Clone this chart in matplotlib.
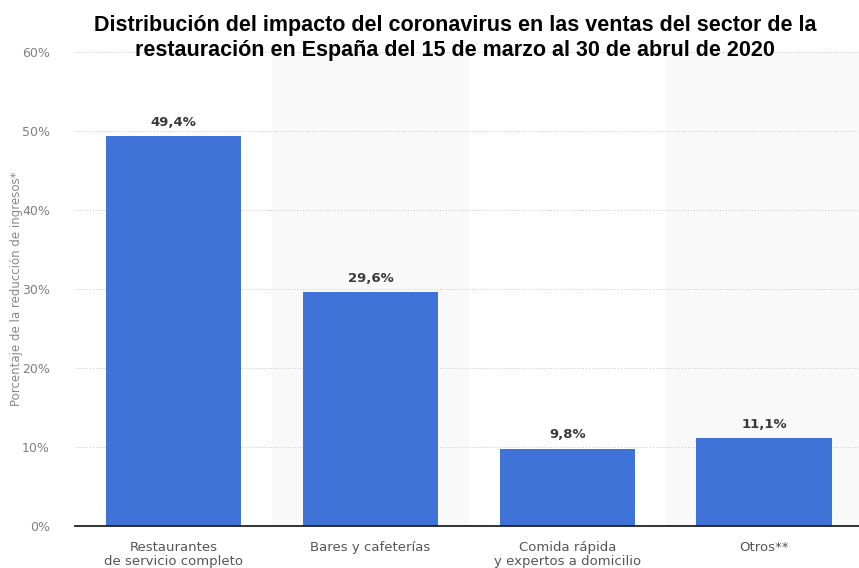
import matplotlib.pyplot as plt
from matplotlib.ticker import FuncFormatter

categorias = ["Restaurantes\nde servicio completo", "Bares y cafeterías",
              "Comida rápida\ny expertos a domicilio", "Otros**"]
valores = [49.4, 29.6, 9.8, 11.1]
etiquetas = ["49,4%", "29,6%", "9,8%", "11,1%"]

titulo = ("Distribución del impacto del coronavirus en las ventas del sector de la\n"
          "restauración en España del 15 de marzo al 30 de abrul de 2020")
eje_y = "Porcentaje de la reducción de ingresos*"

plt.rcParams['font.family'] = ['DejaVu Sans']

fig = plt.figure(figsize=(8.59, 5.68), dpi=100)
ax = fig.add_axes([75 / 859, 1 - 526 / 568, 1 - 75 / 859, (526 - 52) / 568])

x = range(len(categorias))
ax.bar(x, valores, width=0.69, color="#3f73d8", zorder=3)

# bandas grises alternas
for i in x:
    if i % 2 == 1:
        ax.axvspan(i - 0.5, i + 0.5, color="#f9f9f9", zorder=0, lw=0)

for xi, v, t in zip(x, valores, etiquetas):
    ax.text(xi, v + 0.9, t, ha="center", va="bottom", fontsize=9.5,
            fontweight="bold", color="#3a3a3a", zorder=4)

ax.set_xlim(-0.5, 3.48)
ax.set_ylim(0, 60)
ax.set_yticks(range(0, 61, 10))
ax.yaxis.set_major_formatter(FuncFormatter(lambda v, p: f"{int(v)}%"))
ax.grid(axis="y", linestyle=(0, (1, 2)), color="#c4c4c4", lw=0.7, zorder=1)
ax.set_xticks(list(x))
ax.set_xticklabels(categorias, fontsize=9.5, color="#555555", linespacing=1.05)
ax.tick_params(axis="x", length=0, pad=11)
ax.tick_params(axis="y", length=0, pad=18, labelsize=9, labelcolor="#808080")

for s in ["top", "right", "left"]:
    ax.spines[s].set_visible(False)
ax.spines["bottom"].set_color("#222222")
ax.spines["bottom"].set_linewidth(1.3)
ax.spines["bottom"].set_zorder(5)

fig.text(17 / 859, 1 - 289 / 568, eje_y, rotation=90, ha="center",
         va="center", fontsize=8.5, color="#888888")

fig.text(455 / 859, 1 - 38 / 568, titulo, ha="center", va="center",
         fontsize=15.5, fontweight="bold", family="Liberation Sans",
         linespacing=1.22)

fig.savefig("out.png", dpi=100)
